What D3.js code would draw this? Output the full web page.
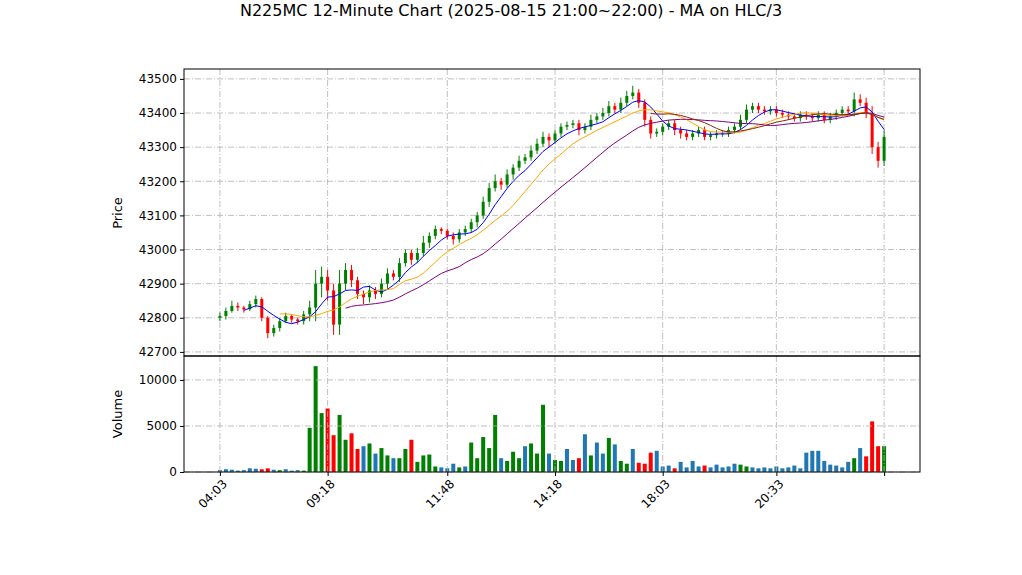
<!DOCTYPE html>
<html><head><meta charset="utf-8">
<script src="https://cdn.jsdelivr.net/npm/d3@7"></script>
<style>body{margin:0;background:#fff}text{font-family:"DejaVu Sans",sans-serif}</style>
</head><body><svg id="c" width="1022" height="575"></svg>
<script>
// closes per bar (open = previous close)
let closes = [42805,42820,42835,42830,42825,42840,42855,42800,42755,42770,
42790,42805,42795,42790,42810,42830,42900,42920,42880,42780,
42900,42940,42910,42870,42860,42880,42870,42900,42930,42920,
42960,42990,42970,42990,43020,43040,43060,43055,43040,43030,
43050,43060,43080,43100,43140,43180,43200,43190,43220,43240,
43260,43270,43290,43310,43330,43320,43340,43360,43365,43370,
43350,43360,43380,43390,43400,43420,43410,43430,43450,43460,
43430,43380,43340,43345,43360,43370,43350,43340,43330,43340,
43350,43330,43335,43340,43340,43350,43360,43380,43410,43420,
43410,43405,43410,43400,43395,43390,43385,43395,43390,43385,
43395,43380,43390,43400,43410,43405,43440,43430,43400,43300,
43260,43330]
let firstOpen = 42800
// wick extents above / below body
let wickUp = [10,10,15,10,5,10,10,5,5,10,10,10,5,5,10,20,40,30,20,20,
40,20,15,10,10,15,10,15,15,10,15,10,10,15,20,10,10,5,5,10,
10,10,10,10,15,15,20,10,15,10,15,10,15,15,15,10,10,10,10,10,
10,10,15,10,15,15,10,15,15,20,10,10,10,10,10,10,10,10,10,10,
10,10,10,10,10,10,10,15,15,10,10,10,10,10,10,10,10,10,10,10,
10,10,10,10,10,10,20,15,15,20,15,20]
let wickDn = [10,10,5,10,10,5,10,10,15,10,10,5,10,10,10,20,40,40,30,30,
30,20,20,15,20,15,15,10,15,10,15,10,15,10,10,15,10,10,10,15,
10,10,10,15,10,15,10,15,10,15,10,10,10,10,10,20,10,10,10,10,
15,10,10,10,10,10,10,10,10,10,15,20,15,10,10,10,15,15,10,10,
10,10,10,10,10,10,10,10,10,10,10,10,10,10,10,10,10,10,10,10,
10,10,10,10,10,10,15,10,15,20,20,15]
let volumes = [200,300,250,150,200,400,350,300,400,250,200,300,150,200,150,
4800,11500,6400,6900,4000,6200,3500,4200,2500,2800,3100,2000,2600,1800,1500,
1500,2500,3500,1100,1800,1900,600,500,400,900,500,600,3200,1500,3800,2600,
6200,1500,1200,2200,1500,2800,3100,2000,7300,2000,1300,1200,2500,1300,1500,
4100,1800,3200,2000,3700,3000,1200,900,2500,1000,900,2100,2300,600,700,400,
1100,500,1200,600,700,500,800,500,600,900,800,600,500,400,500,400,600,400,
500,700,400,2100,2300,2300,1200,800,700,500,1100,1500,2600,1700,5500,2800,2800]
let tickIdx = [0,18,38,56,74,93,111]
let tickLabels = ["04:03","09:18","11:48","14:18","18:03","20:33",""]
let maPeriods = [5,11,22,14]
let maStart = [4,10,21,72]
let maColors = ["blue","orange","purple","#8b2500"]
let priceTicks = [42700,42800,42900,43000,43100,43200,43300,43400,43500]
let volTicks = [0,5000,10000]

let svg = d3.select("#c")
let L = 184, R = 920, T = 69, M = 356, B = 472
let n = closes.length
let data = closes.map((c, i) => {
    let o = i == 0 ? firstOpen : closes[i-1]
    return {o, c, h: Math.max(o, c) + wickUp[i], l: Math.min(o, c) - wickDn[i], v: volumes[i]}
})
let x = d3.scaleLinear([-6, n + 5], [L, R])
let y = d3.scaleLinear([42688, 43529], [M, T])
let yv = d3.scaleLinear([0, 12600], [B, M])

// grid
let grid = svg.append("g").attr("stroke", "#b0b0b0").attr("stroke-dasharray", "6,2,1,2").attr("stroke-width", 0.8)
grid.selectAll(".gx").data(tickIdx).join("line").attr("x1", d=>x(d)).attr("x2", d=>x(d)).attr("y1", T).attr("y2", M)
grid.selectAll(".gy").data(priceTicks).join("line").attr("class","gy").attr("x1", L).attr("x2", R).attr("y1", d=>y(d)).attr("y2", d=>y(d))

// candles
let col = d => d.c > d.o ? "green" : d.c < d.o ? "red" : "#1f77b4"
let cg = svg.append("g")
cg.selectAll("line").data(data).join("line")
    .attr("x1", (d,i)=>x(i)).attr("x2", (d,i)=>x(i))
    .attr("y1", d=>y(d.h)).attr("y2", d=>y(d.l)).attr("stroke", col)
cg.selectAll("rect").data(data).join("rect")
    .attr("x", (d,i)=>x(i)-1.5).attr("width", 3)
    .attr("y", d=>y(Math.max(d.o,d.c))).attr("height", d=>Math.max(1, Math.abs(y(d.o)-y(d.c))))
    .attr("fill", col)

// moving averages on HLC/3
let typ = data.map(d => (d.h + d.l + d.c) / 3)
maPeriods.forEach((p, k) => {
    let pts = []
    for (let i = Math.max(p - 1, maStart[k]); i < n; i++) pts.push([i, d3.mean(typ.slice(i - p + 1, i + 1))])
    svg.append("path").attr("d", d3.line().x(d=>x(d[0])).y(d=>y(d[1]))(pts))
        .attr("fill", "none").attr("stroke", maColors[k]).attr("stroke-width", 1)
})

// volume
let vcol = d => Math.abs(d.c - d.o) < 20 ? "#1f77b4" : col(d)
svg.append("g").selectAll("rect").data(data).join("rect")
    .attr("x", (d,i)=>x(i)-2).attr("width", 4)
    .attr("y", d=>yv(d.v)).attr("height", d=>B - yv(d.v)).attr("fill", vcol)
let vg = svg.append("g").attr("stroke", "#b0b0b0").attr("stroke-dasharray", "6,2,1,2").attr("stroke-width", 0.8)
vg.selectAll("line.a").data(tickIdx).join("line").attr("class","a").attr("x1", d=>x(d)).attr("x2", d=>x(d)).attr("y1", M).attr("y2", B)
vg.selectAll("line.b").data(volTicks).join("line").attr("class","b").attr("x1", L).attr("x2", R).attr("y1", d=>yv(d)).attr("y2", d=>yv(d))

// frames & axes
svg.append("rect").attr("x", L).attr("y", T).attr("width", R-L).attr("height", M-T).attr("fill","none").attr("stroke","black")
svg.append("rect").attr("x", L).attr("y", M).attr("width", R-L).attr("height", B-M).attr("fill","none").attr("stroke","black")
svg.append("g").attr("transform", `translate(${L},0)`)
    .call(d3.axisLeft(y).tickValues(priceTicks).tickSize(4).tickFormat(d3.format("d")))
    .call(g => g.select(".domain").remove())
svg.append("g").attr("transform", `translate(${L},0)`)
    .call(d3.axisLeft(yv).tickValues(volTicks).tickSize(4).tickFormat(d3.format("d")))
    .call(g => g.select(".domain").remove())
let xa = svg.append("g").attr("transform", `translate(0,${B})`)
    .call(d3.axisBottom(x).tickValues(tickIdx).tickSize(4).tickFormat((d,i)=>tickLabels[i]))
xa.select(".domain").remove()
xa.selectAll("text").attr("text-anchor","end").attr("transform","rotate(-45)").attr("dx","-0.3em").attr("dy","0.6em")
svg.selectAll(".tick text").attr("font-size", 12).attr("fill","black").attr("font-family","DejaVu Sans")

svg.append("text").attr("x", 511).attr("y", 16).attr("text-anchor","middle").attr("font-size", 16)
    .text("N225MC 12-Minute Chart (2025-08-15 21:00~22:00) - MA on HLC/3")
svg.append("text").attr("transform","translate(122,213) rotate(-90)").attr("text-anchor","middle").attr("font-size",13).text("Price")
svg.append("text").attr("transform","translate(122,414) rotate(-90)").attr("text-anchor","middle").attr("font-size",13).text("Volume")
</script></body></html>
